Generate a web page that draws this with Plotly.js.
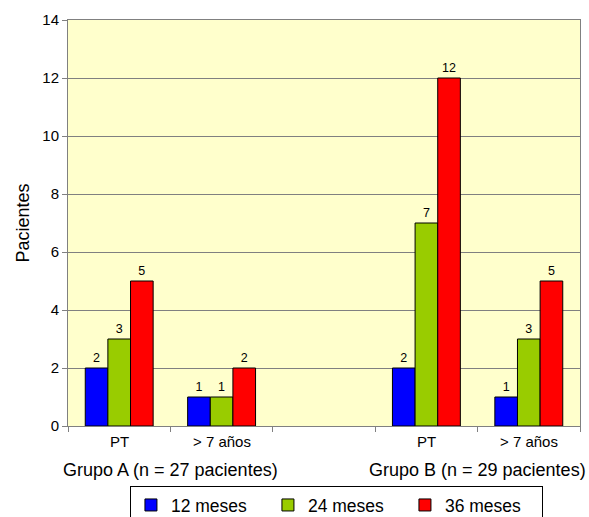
<!DOCTYPE html>
<html><head><meta charset="utf-8">
<script src="https://cdn.plot.ly/plotly-3.0.1.min.js"></script>
<style>html,body{margin:0;padding:0;background:#fff;}#c{width:589px;height:517px;}</style>
</head><body><div id="c"></div>
<script>
var catPos = [0, 1, 3, 4];
var catLabels = ["PT", "> 7 años", "PT", "> 7 años"];
var groupLabels = ["Grupo A (n = 27 pacientes)", "Grupo B (n = 29 pacientes)"];
var groupPos = [0.5, 3.5];
var seriesNames = ["12 meses", "24 meses", "36 meses"];
var v12 = [2, 1, 2, 1];
var v24 = [3, 1, 7, 3];
var v36 = [5, 2, 12, 5];
var colors = ["#0000FF", "#99CC00", "#FF0000"];
var boundaries = [-0.5, 0.5, 1.5, 2.5, 3.5, 4.5];
var FONT = "Liberation Sans, Arial, sans-serif";

var series = [v12, v24, v36];
var traces = series.map(function (vals, i) {
  return {
    type: "bar", x: catPos, y: vals, name: seriesNames[i],
    marker: {color: colors[i], line: {color: "#000", width: 1}},
    text: vals.map(String), textposition: "outside",
    textfont: {family: FONT, size: 12.5, color: "#000"},
    cliponaxis: false
  };
});

var annotations = [];
catPos.forEach(function (p, i) {
  annotations.push({x: p, y: 0, xref: "x", yref: "y", yshift: -15, text: catLabels[i],
    showarrow: false, font: {family: FONT, size: 15, color: "#000"}});
});
groupPos.forEach(function (p, i) {
  annotations.push({x: p, y: 0, xref: "x", yref: "y", yshift: -44, text: groupLabels[i],
    showarrow: false, font: {family: FONT, size: 18, color: "#000"}});
});

var layout = {
  width: 589, height: 517,
  margin: {l: 68, r: 9, t: 20, b: 91, autoexpand: false},
  paper_bgcolor: "#fff", plot_bgcolor: "#FFFFCC",
  font: {family: FONT, color: "#000"},
  barmode: "group", bargap: 0.337, bargroupgap: 0,
  showlegend: true,
  legend: {orientation: "h", x: 0.121, xanchor: "left", y: -0.148, yanchor: "top",
    bordercolor: "#000", borderwidth: 1, bgcolor: "#fff",
    font: {size: 17.5, color: "#000"}, entrywidth: 92, entrywidthmode: "pixels",
    traceorder: "normal", itemwidth: 30},
  xaxis: {range: [-0.5, 4.5], tickvals: boundaries, ticktext: boundaries.map(function(){return "";}),
    ticks: "outside", ticklen: 5, tickcolor: "#808080", showgrid: false, zeroline: false,
    showline: true, linecolor: "#808080", linewidth: 1, mirror: true, fixedrange: true},
  yaxis: {range: [0, 14], dtick: 2, tick0: 0, ticks: "outside", ticklen: 5, tickcolor: "#808080",
    showgrid: true, gridcolor: "#808080", gridwidth: 1, zeroline: false,
    showline: true, linecolor: "#808080", linewidth: 1, mirror: true,
    tickfont: {size: 15, color: "#000"},
    title: {text: "Pacientes", font: {size: 18, color: "#000"}, standoff: 8}},
  annotations: annotations
};
Plotly.newPlot("c", traces, layout, {displayModeBar: false, staticPlot: true});
</script></body></html>
